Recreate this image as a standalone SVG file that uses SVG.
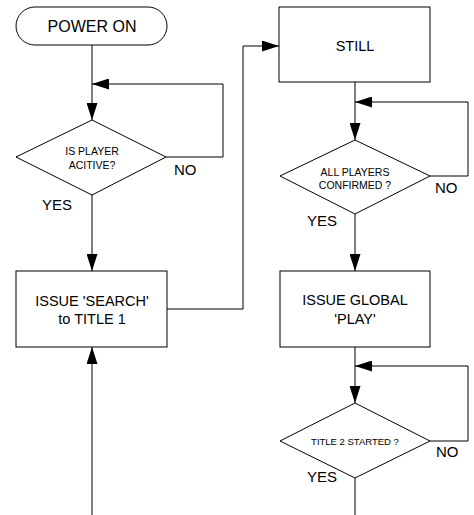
<svg xmlns="http://www.w3.org/2000/svg" width="474" height="515" viewBox="0 0 474 515">
<defs>
<style>
.shape{fill:#fff;stroke:#000;stroke-width:1}
.line{fill:none;stroke:#000;stroke-width:1}
text{font-family:"Liberation Sans",Arial,sans-serif;fill:#000}
.big{font-size:14.5px;text-anchor:middle}
.small{font-size:10.5px;text-anchor:middle}
.lbl{font-size:15px}
</style>
<marker id="arr" markerUnits="userSpaceOnUse" markerWidth="17" markerHeight="11" refX="17" refY="5.5" orient="auto" viewBox="0 0 17 11">
<path d="M0,0 L17,5.5 L0,11 z" fill="#000"/>
</marker>
</defs>
<g id="connectors">
<path class="line" d="M92,45 V120" marker-end="url(#arr)"/>
<path class="line" d="M166,157 H223 V84 H92" marker-end="url(#arr)"/>
<path class="line" d="M92,195 V271" marker-end="url(#arr)"/>
<path class="line" d="M92,515 V347" marker-end="url(#arr)"/>
<path class="line" d="M167,309 H243 V46 H279" marker-end="url(#arr)"/>
<path class="line" d="M355,82 V140" marker-end="url(#arr)"/>
<path class="line" d="M430,176 H468 V102 H355" marker-end="url(#arr)"/>
<path class="line" d="M355,214 V271" marker-end="url(#arr)"/>
<path class="line" d="M355,347 V403" marker-end="url(#arr)"/>
<path class="line" d="M430,441 H468 V366 H355" marker-end="url(#arr)"/>
<path class="line" d="M355,478 V515"/>
<text class="lbl" x="174" y="175">NO</text>
<text class="lbl" x="42" y="210">YES</text>
<text class="lbl" x="435" y="193">NO</text>
<text class="lbl" x="307" y="226">YES</text>
<text class="lbl" x="436" y="457">NO</text>
<text class="lbl" x="307" y="482">YES</text>
</g>
<g id="power_on">
<rect class="shape" x="16" y="7" width="151" height="38" rx="19" ry="19"/>
<text x="92" y="32" style="font-size:16px;text-anchor:middle">POWER ON</text>
</g>
<g id="is_player_active">
<polygon class="shape" points="92,120 166,157 92,195 16,157"/>
<text class="small" x="92" y="155">IS PLAYER</text>
<text class="small" x="92" y="169">ACITIVE?</text>
</g>
<g id="issue_search">
<rect class="shape" x="16" y="271" width="151" height="76"/>
<text class="big" x="92" y="306">ISSUE 'SEARCH'</text>
<text class="big" x="92" y="324">to TITLE 1</text>
</g>
<g id="still">
<rect class="shape" x="279" y="7" width="151" height="75"/>
<text class="big" x="355" y="51">STILL</text>
</g>
<g id="all_players_confirmed">
<polygon class="shape" points="355,140 430,176 355,214 280,176"/>
<text class="small" x="355" y="176">ALL PLAYERS</text>
<text class="small" x="355" y="189">CONFIRMED ?</text>
</g>
<g id="issue_global_play">
<rect class="shape" x="280" y="271" width="150" height="76"/>
<text class="big" x="355" y="305">ISSUE GLOBAL</text>
<text class="big" x="355" y="324">'PLAY'</text>
</g>
<g id="title2_started">
<polygon class="shape" points="355,403 430,441 355,478 280,441"/>
<text style="font-size:9.5px;text-anchor:middle" x="355" y="445">TITLE 2 STARTED ?</text>
</g>
</svg>
